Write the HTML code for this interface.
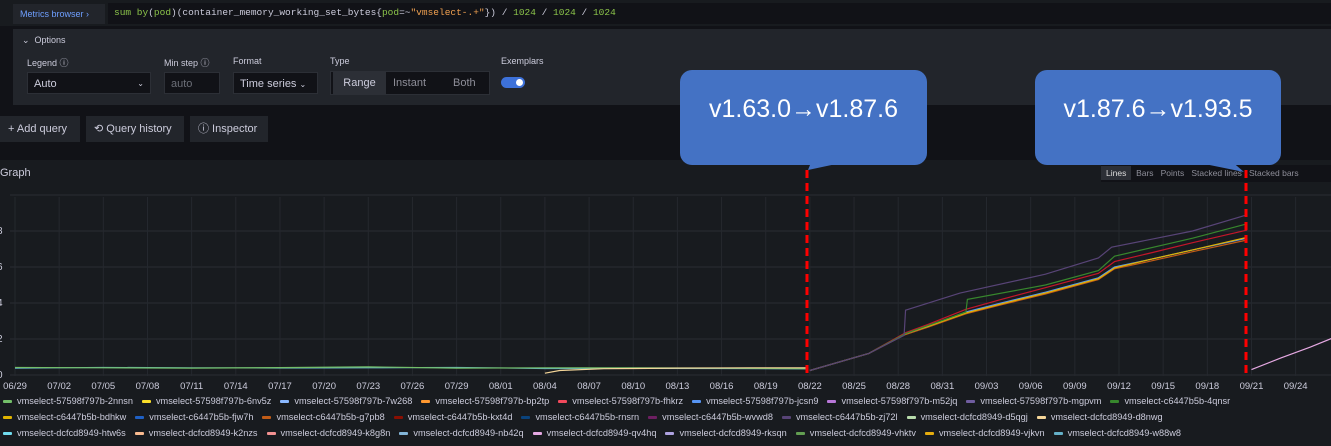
<!DOCTYPE html>
<html><head><meta charset="utf-8"><style>
body{margin:0;width:1331px;height:446px;overflow:hidden;background:#111217;font-family:"Liberation Sans",sans-serif;color:#ccccdc;position:relative}
.abs{position:absolute}
.lbl{font-size:9px;color:#ccccdc}
.inp{background:#111217;border:1px solid #2c2f36;font-size:11px;box-sizing:border-box;padding:0 6px;line-height:22px}
.btn{background:#22252b;font-size:11px;line-height:26px;padding:0 8px;box-sizing:border-box;height:26px}
.leg{position:absolute;left:3px;font-size:9.2px;white-space:nowrap;color:#ccccdc}
.leg span{display:inline-block;margin-right:9px}
.leg i{display:inline-block;width:9px;height:3px;vertical-align:middle;margin-right:5px;border-radius:1px}
.call{position:absolute;background:#4472c4;border-radius:12px;color:#fff;font-size:25px;font-family:"Liberation Sans",sans-serif;text-align:center;line-height:78px}
</style></head><body>
<div class="abs" style="left:0;top:0;width:1331px;height:26px;background:#181b1f"></div>
<div class="abs" style="left:13px;top:4px;width:92px;height:20px;background:#22252b;color:#6e9fff;font-size:9px;line-height:20px;padding-left:7px;box-sizing:border-box">Metrics browser ›</div>
<div class="abs" style="left:108px;top:3px;width:1223px;height:21px;background:#111217;font-family:'Liberation Mono',monospace;font-size:9.5px;line-height:20px;padding-left:6px;color:#ccccdc">
<span style="color:#8bc34a">sum by</span>(<span style="color:#8bc34a">pod</span>)(container_memory_working_set_bytes{<span style="color:#8bc34a">pod</span>=~<span style="color:#f0a050">"vmselect-.+"</span>}) / <span style="color:#8bc34a">1024</span> / <span style="color:#8bc34a">1024</span> / <span style="color:#8bc34a">1024</span></div>
<div class="abs" style="left:13px;top:29px;width:1318px;height:76px;background:#22252b"></div>
<div class="abs lbl" style="left:22px;top:35px;font-size:9px">⌄ &nbsp;Options</div>
<div class="abs lbl" style="left:27px;top:56px">Legend ⓘ</div>
<div class="abs inp" style="left:27px;top:72px;width:124px;height:22px">Auto<span style="float:right;font-size:8px">⌄</span></div>
<div class="abs lbl" style="left:164px;top:56px">Min step ⓘ</div>
<div class="abs inp" style="left:164px;top:72px;width:56px;height:22px;color:#6c6f78">auto</div>
<div class="abs lbl" style="left:233px;top:56px">Format</div>
<div class="abs inp" style="left:233px;top:72px;width:85px;height:22px">Time series <span style="font-size:8px">⌄</span></div>
<div class="abs lbl" style="left:330px;top:56px">Type</div>
<div class="abs" style="left:330px;top:71px;width:160px;height:24px;background:#111217;border:1px solid #2c2f36;box-sizing:border-box;font-size:11px;line-height:22px">
<span style="position:absolute;left:2px;top:0;width:53px;background:#2c2f36;text-align:center">Range</span>
<span style="position:absolute;left:62px;color:#8e8e99">Instant</span>
<span style="position:absolute;left:122px;color:#8e8e99">Both</span></div>
<div class="abs lbl" style="left:501px;top:56px">Exemplars</div>
<div class="abs" style="left:501px;top:77px;width:24px;height:11px;border-radius:6px;background:#3d71d9"><div style="position:absolute;right:2px;top:2px;width:7px;height:7px;border-radius:50%;background:#fff"></div></div>
<div class="abs btn" style="left:0;top:116px;width:80px">+ Add query</div>
<div class="abs btn" style="left:86px;top:116px;width:98px">⟲ Query history</div>
<div class="abs btn" style="left:190px;top:116px;width:78px">ⓘ Inspector</div>
<div class="abs" style="left:0;top:160px;width:1331px;height:286px;background:#181b1f"></div>
<div class="abs" style="left:0;top:167px;font-size:11px">Graph</div>
<div class="abs" style="left:1101px;top:165px;width:230px;height:17px;background:#111217;font-size:8.5px;line-height:17px;color:#8e8e99;white-space:nowrap">
<span style="background:#2c2f36;color:#ddd;padding:2px 5px">Lines</span> <span>&nbsp;Bars</span> &nbsp;&nbsp;<span>Points</span> &nbsp;&nbsp;<span>Stacked lines</span> &nbsp;&nbsp;<span>Stacked bars</span></div>
<svg class="abs" style="left:0;top:0" width="1331" height="446">
<g id="grid"></g><g id="series"></g><g id="marks"></g></svg>
<div class="leg" style="top:396px">
<span><i style="background:#73bf69"></i>vmselect-57598f797b-2nnsn</span><span><i style="background:#fade2a"></i>vmselect-57598f797b-6nv5z</span><span><i style="background:#8ab8ff"></i>vmselect-57598f797b-7w268</span><span><i style="background:#ff9830"></i>vmselect-57598f797b-bp2tp</span><span><i style="background:#f2495c"></i>vmselect-57598f797b-fhkrz</span><span><i style="background:#5794f2"></i>vmselect-57598f797b-jcsn9</span><span><i style="background:#b877d9"></i>vmselect-57598f797b-m52jq</span><span><i style="background:#705da0"></i>vmselect-57598f797b-mgpvm</span><span><i style="background:#37872d"></i>vmselect-c6447b5b-4qnsr</span></div>
<div class="leg" style="top:412px">
<span><i style="background:#e0b400"></i>vmselect-c6447b5b-bdhkw</span><span><i style="background:#1f60c4"></i>vmselect-c6447b5b-fjw7h</span><span><i style="background:#c15c17"></i>vmselect-c6447b5b-g7pb8</span><span><i style="background:#890f02"></i>vmselect-c6447b5b-kxt4d</span><span><i style="background:#0a437c"></i>vmselect-c6447b5b-rnsrn</span><span><i style="background:#6d1f62"></i>vmselect-c6447b5b-wvwd8</span><span><i style="background:#584477"></i>vmselect-c6447b5b-zj72l</span><span><i style="background:#b7dbab"></i>vmselect-dcfcd8949-d5qgj</span><span><i style="background:#f4d598"></i>vmselect-dcfcd8949-d8nwg</span></div>
<div class="leg" style="top:428px">
<span><i style="background:#70dbed"></i>vmselect-dcfcd8949-htw6s</span><span><i style="background:#f9ba8f"></i>vmselect-dcfcd8949-k2nzs</span><span><i style="background:#f29191"></i>vmselect-dcfcd8949-k8g8n</span><span><i style="background:#82b5d8"></i>vmselect-dcfcd8949-nb42q</span><span><i style="background:#e5a8e2"></i>vmselect-dcfcd8949-qv4hq</span><span><i style="background:#aea2e0"></i>vmselect-dcfcd8949-rksqn</span><span><i style="background:#629e51"></i>vmselect-dcfcd8949-vhktv</span><span><i style="background:#e5ac0e"></i>vmselect-dcfcd8949-vjkvn</span><span><i style="background:#64b0c8"></i>vmselect-dcfcd8949-w88w8</span></div>
<div class="call" style="left:680px;top:70px;width:247px;height:95px">v1.63.0→v1.87.6</div>
<div class="call" style="left:1035px;top:70px;width:246px;height:95px">v1.87.6→v1.93.5</div>
<svg class="abs" style="left:0;top:0" width="1331" height="446">
<polygon points="812,160 855,160 808,170" fill="#4472c4"/>
<polygon points="1185,160 1230,160 1244,172" fill="#4472c4"/>
<line x1="807" y1="170" x2="807" y2="378" stroke="#ff0000" stroke-width="3" stroke-dasharray="8,5"/>
<line x1="1246" y1="170" x2="1246" y2="378" stroke="#ff0000" stroke-width="3" stroke-dasharray="8,5"/>
</svg>
<script>
const yTicks=[0,2,4,6,8,10];
const xTickLabels=["06/29","07/02","07/05","07/08","07/11","07/14","07/17","07/20","07/23","07/26","07/29","08/01","08/04","08/07","08/10","08/13","08/16","08/19","08/22","08/25","08/28","08/31","09/03","09/06","09/09","09/12","09/15","09/18","09/21","09/24"];
const oldDays=[0,6,12,18,24,30,36,42,48,53.9];
const oldGreen=[0.42,0.40,0.38,0.41,0.45,0.38,0.40,0.40,0.38,0.35];
const oldTeal=[0.38,0.42,0.40,0.39,0.40,0.42,0.36,0.37,0.36,0.34];
const tanDays=[36,37,40,45,50,53.9];
const tanVals=[0.10,0.25,0.35,0.38,0.40,0.40];
const clDays=[54,58,60.5,62,64.6,67,70,73.6,74.7,77,80,83.7];
const blueVals=[0.25,1.2,2.3,2.7,3.5,4.0,4.6,5.4,6.0,6.4,6.95,7.6];
const redVals=[0.25,1.2,2.35,2.8,3.65,4.2,4.85,5.65,6.3,6.75,7.35,8.05];
const yellowVals=[0.25,1.2,2.3,2.7,3.45,3.95,4.55,5.35,5.95,6.4,6.95,7.65];
const orangeVals=[0.25,1.2,2.25,2.65,3.4,3.9,4.5,5.3,5.9,6.3,6.85,7.5];
const purpleDays=[54,58,60.4,60.5,64.2,70,73.6,74.5,80,83.7];
const purpleVals=[0.25,1.2,2.2,3.6,4.55,5.6,6.5,7.1,8.0,8.9];
const greenDays=[54,58,60.5,64.6,64.7,70,73.6,74.7,80,83.7];
const greenVals=[0.25,1.2,2.3,3.5,4.2,5.0,5.8,6.6,7.6,8.4];
const pinkDays=[84,86,88,89.5];
const pinkVals=[0.3,0.95,1.55,2.05];

const X=d=>15+14.72*d, Y=v=>375-18*v;
const NS="http://www.w3.org/2000/svg";
const grid=document.getElementById('grid'),ser=document.getElementById('series');
yTicks.forEach(t=>{
 const l=document.createElementNS(NS,'line');
 
 
 l.setAttribute('x1',10);l.setAttribute('x2',1331);l.setAttribute('y1',Y(t));l.setAttribute('y2',Y(t));
 l.setAttribute('stroke','#2a2d33');l.setAttribute('stroke-width','1');grid.appendChild(l);
 if(t<10){const tx=document.createElementNS(NS,'text');
 
 
 tx.setAttribute('x',-3);tx.setAttribute('y',Y(t)+3);tx.setAttribute('fill','#ccccdc');tx.setAttribute('font-size','10');tx.textContent=t;grid.appendChild(tx);}
});
xTickLabels.forEach((s,i)=>{
 const x=X(i*3);
 const l=document.createElementNS(NS,'line');
 
 
 l.setAttribute('x1',x);l.setAttribute('x2',x);l.setAttribute('y1',197);l.setAttribute('y2',376);
 l.setAttribute('stroke','#25282e');grid.appendChild(l);
 const tx=document.createElementNS(NS,'text');
 
 
 tx.setAttribute('x',x);tx.setAttribute('y',389);tx.setAttribute('text-anchor','middle');tx.setAttribute('fill','#ccccdc');tx.setAttribute('font-size','9.5');tx.textContent=s;grid.appendChild(tx);
});
function line(days,vals,color,name){
 const p=document.createElementNS(NS,'polyline');
 
 
 p.setAttribute('points',days.map((d,i)=>X(d)+','+Y(vals[i])).join(' '));
 p.setAttribute('fill','none');p.setAttribute('stroke',color);p.setAttribute('stroke-width','1.2');
 ser.appendChild(p);
}
line(oldDays,oldTeal,'#64b0c8','series-old-teal');
line(oldDays,oldGreen,'#73bf69','series-old-green');
line(tanDays,tanVals,'#f4d598','series-tan');
line(clDays,orangeVals,'#c15c17','series-orange');
line(clDays,blueVals,'#5794f2','series-blue');
line(clDays,yellowVals,'#e0b400','series-yellow');
line(clDays,redVals,'#c4162a','series-red');
line(greenDays,greenVals,'#37872d','series-green');
line(purpleDays,purpleVals,'#584477','series-purple');
line(pinkDays,pinkVals,'#e5a8e2','series-pink');
</script>
</body></html>
